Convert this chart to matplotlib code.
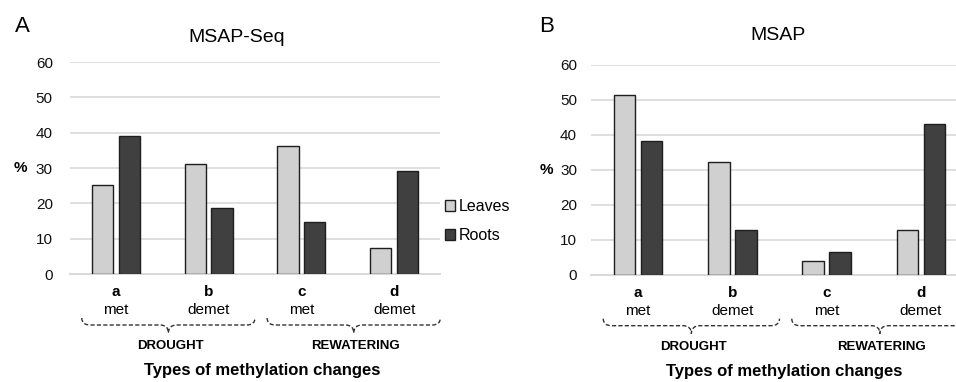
import numpy as np
import matplotlib.pyplot as plt
from matplotlib.patches import Patch, PathPatch
from matplotlib.path import Path

plt.rcParams['font.family'] = ['Liberation Sans', 'DejaVu Sans']

# data (% of changes)
letters = ['a', 'b', 'c', 'd']
kinds = ['met', 'demet', 'met', 'demet']
groups = ['DROUGHT', 'REWATERING']

seq_leaves = [25.2, 31.2, 36.3, 7.3]
seq_roots = [39.0, 18.7, 14.6, 29.1]
msap_leaves = [51.5, 32.2, 3.9, 12.8]
msap_roots = [38.3, 12.8, 6.6, 43.0]

LEAF = '#d0d0d0'
ROOT = '#404040'
EDGE = '#1e1e1e'
PX = 0.72  # points per pixel at dpi 100

fig = plt.figure(figsize=(9.56, 3.82), dpi=100)
axA = fig.add_axes([69.7 / 956, 1 - 274 / 382, 370.7 / 956, 212 / 382])
axB = fig.add_axes([591 / 956, 1 - 274.7 / 382, 377 / 956, 209.7 / 382])


def brace(ax, x0, x1, h):
    # dashed curly brace under the axis, x in data units, y in pixels below
    r = 0.09
    xt = (x0 + x1) / 2
    pts = [(x0, 44), (x0, 51), (x0 + r, 51), (xt - r, 51), (xt, 51), (xt, 59),
           (xt, 51), (xt + r, 51), (x1 - r, 51), (x1, 51), (x1, 44)]
    codes = [Path.MOVETO, Path.CURVE3, Path.CURVE3, Path.LINETO, Path.CURVE3, Path.CURVE3,
             Path.CURVE3, Path.CURVE3, Path.LINETO, Path.CURVE3, Path.CURVE3]
    verts = [(x, -y / h) for x, y in pts]
    p = PathPatch(Path(verts, codes), fill=False, ec='#333333', lw=1,
                  ls=(0, (3, 1.6)), transform=ax.get_xaxis_transform(), clip_on=False)
    ax.add_patch(p)
    return xt


def panel(ax, leaves, roots, title, title_x, title_dy, pct_x, pad, xlab_x):
    h = ax.bbox.height
    x = np.arange(len(letters))
    ax.bar(x - 0.143, leaves, 0.23, color=LEAF, edgecolor=EDGE, lw=1, zorder=3)
    ax.bar(x + 0.143, roots, 0.23, color=ROOT, edgecolor=EDGE, lw=1, zorder=3)
    ax.set_xlim(-0.5, 3.5)
    ax.set_ylim(0, 60)
    ax.set_yticks(range(0, 61, 10))
    ax.set_xticks([])
    ax.yaxis.grid(True, color='#d9d9d9', lw=1.2)
    ax.axhline(0, color='#d9d9d9', lw=1.4, clip_on=False, zorder=1)
    ax.set_axisbelow(True)
    for s in ax.spines.values():
        s.set_visible(False)
    ax.tick_params(length=0, labelsize=11, pad=pad, colors='#111111')

    ax.text(title_x, 1 + title_dy / h, title, transform=ax.transAxes,
            ha='center', va='center', fontsize=14)
    ax.text(pct_x, 30, '%', transform=ax.get_yaxis_transform(),
            ha='center', va='center', fontsize=11, fontweight='bold')

    tr = ax.get_xaxis_transform()
    for i in x:
        ax.annotate(letters[i], xy=(i, 0), xycoords=tr, xytext=(0, -18 * PX),
                    textcoords='offset points', ha='center', va='center',
                    fontsize=11, fontweight='bold')
        ax.annotate(kinds[i], xy=(i, 0), xycoords=tr, xytext=(0, -36 * PX),
                    textcoords='offset points', ha='center', va='center', fontsize=11)
    for g, name in enumerate(groups):
        xt = brace(ax, 2 * g - 0.37, 2 * g + 1.5, h)
        ax.annotate(name, xy=(xt + 0.02, 0), xycoords=tr, xytext=(0, -72 * PX),
                    textcoords='offset points', ha='center', va='center',
                    fontsize=9.5, fontweight='bold')
    ax.annotate('Types of methylation changes', xy=(xlab_x, 0), xycoords='axes fraction',
                xytext=(0, -97 * PX), textcoords='offset points', ha='center',
                va='center', fontsize=12, fontweight='bold')


panel(axA, seq_leaves, seq_roots, 'MSAP-Seq', 0.451, 25, -0.134, 12.2, 0.52)
panel(axB, msap_leaves, msap_roots, 'MSAP', 0.496, 30, -0.119, 10, 0.512)

fig.text(22 / 956, 1 - 26 / 382, 'A', fontsize=16, ha='center', va='center')
fig.text(547 / 956, 1 - 26 / 382, 'B', fontsize=16, ha='center', va='center')

handles = [Patch(facecolor=LEAF, edgecolor=EDGE, lw=1, label='Leaves'),
           Patch(facecolor=ROOT, edgecolor=EDGE, lw=1, label='Roots')]
fig.legend(handles=handles, loc='center left', bbox_to_anchor=(445 / 956, 1 - 221 / 382),
           frameon=False, fontsize=11.5, handlelength=0.65, handleheight=0.65,
           handletextpad=0.2, labelspacing=0.9, borderpad=0, borderaxespad=0)

fig.savefig('out.png', dpi=100)
